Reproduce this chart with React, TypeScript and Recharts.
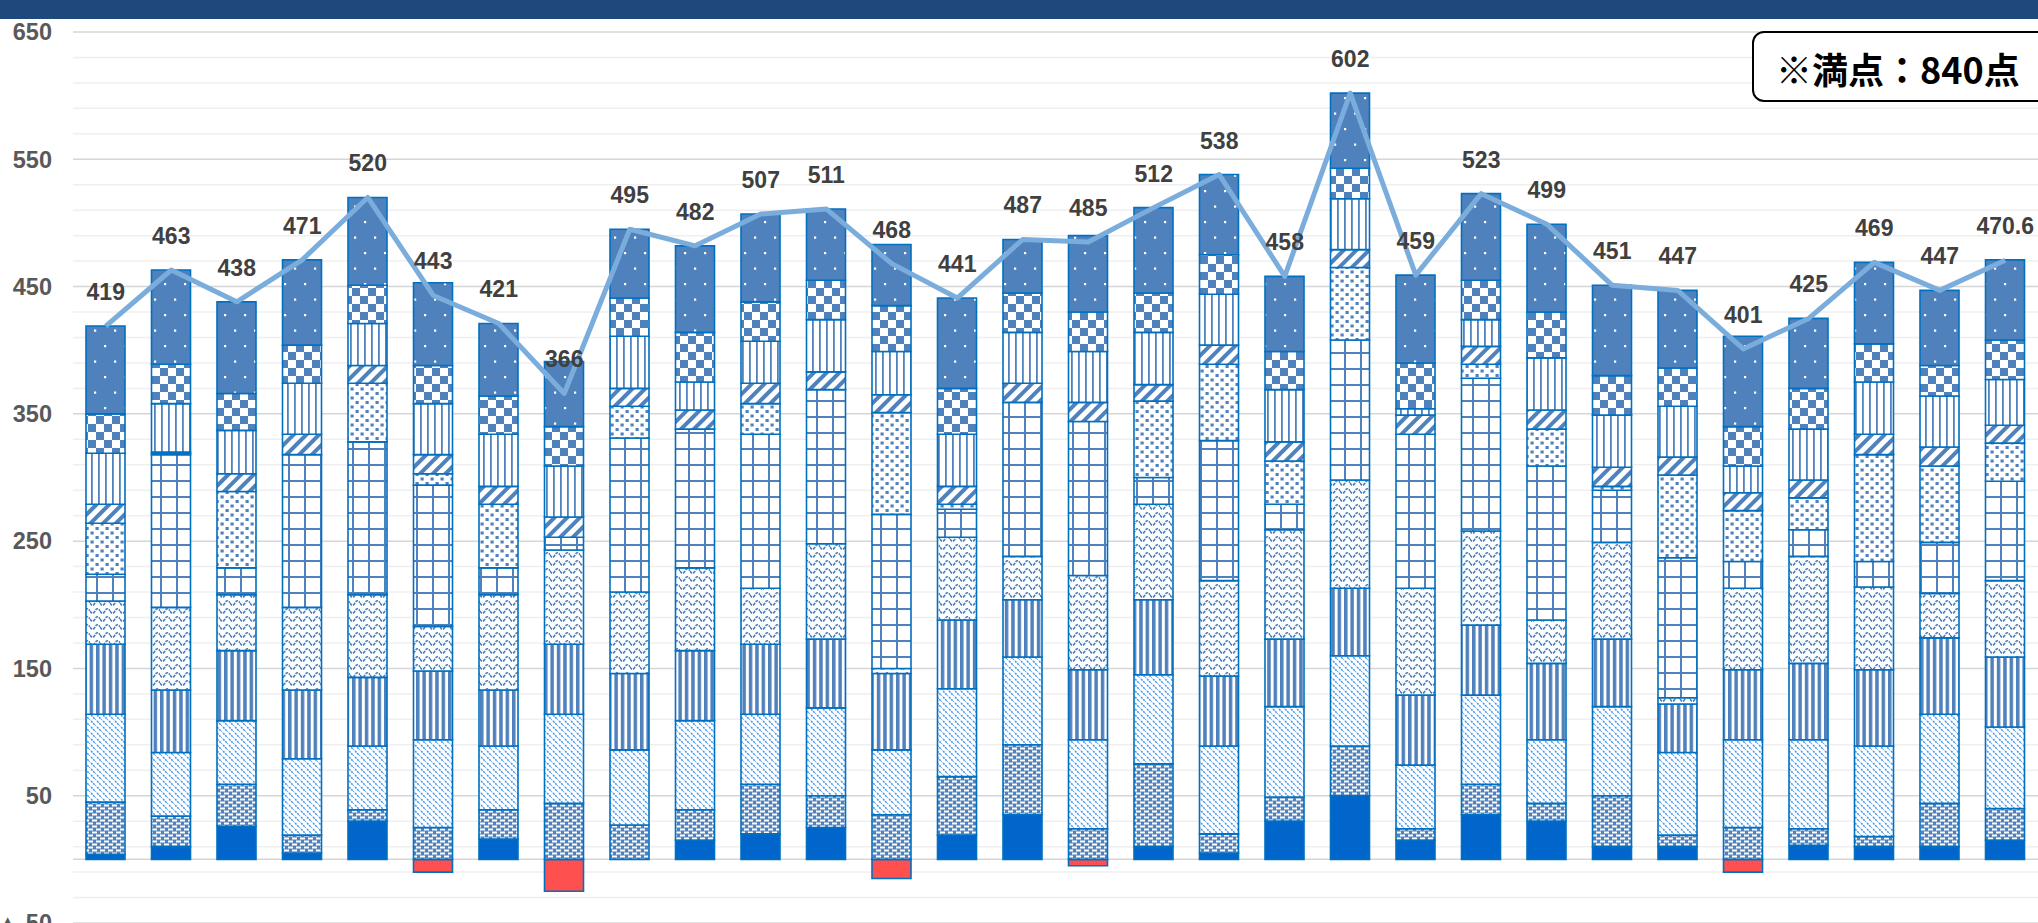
import React from "react";
import { ComposedChart, Bar, Line, XAxis, YAxis, CartesianGrid, LabelList } from "recharts";

const categories = ["1","2","3","4","5","6","7","8","9","10","11","12","13","14","15","16","17","18","19","20","21","22","23","24","25","26","27","28","29","30"];

const totals = [419,463,438,471,520,443,421,366,495,482,507,511,468,441,487,485,512,538,458,602,459,523,499,451,447,401,425,469,447,470.6];

const negative = [0,0,0,0,0,-10,0,-25,0,0,0,0,-15,0,0,-5,0,0,0,0,0,0,0,0,0,-10,0,0,0,0];
const solid = [4,10,26,5,30,0,16,0,0,15,20,25,0,19,35,0,10,5,30,50,15,35,30,10,10,0,11,10,10,15];
const dashes = [41,24,33,14,9,25,23,44,27,24,39,25,35,46,55,24,65,15,19,39,9,24,14,40,9,25,13,8,34,25];
const diagDown = [69,50,50,60,50,69,50,70,59,70,55,69,51,69,69,70,70,69,71,71,50,70,50,70,65,69,70,71,70,64];
const wideVert = [55,49,55,54,54,54,44,55,60,55,55,54,60,54,45,55,59,55,53,53,55,55,60,53,38,55,60,60,60,55];
const wave = [34,65,44,65,65,35,75,74,64,65,44,75,4,65,34,74,75,75,86,85,84,74,34,76,5,64,84,65,35,60];
const grid = [21,120,21,120,120,111,21,10,121,109,121,121,121,22,121,121,21,110,20,110,121,120,121,41,110,21,21,20,40,78];
const confetti = [40,1,60,0,46,9,50,0,25,0,24,0,80,4,0,0,60,60,34,57,0,11,29,3,65,40,25,84,60,30];
const diagUp = [15,1,14,16,14,15,14,16,14,15,16,14,14,14,15,15,13,15,15,14,15,14,15,15,14,14,14,16,15,14];
const narrowVert = [40,38,34,40,33,40,41,40,41,22,33,41,34,41,40,40,41,40,41,40,5,21,41,41,40,21,40,41,40,36];
const checker = [31,31,29,30,30,30,30,31,30,39,31,31,36,36,31,31,31,31,30,24,36,31,36,31,30,31,32,30,24,31];
const dots = [69,74,72,67,69,65,57,51,54,68,69,56,48,71,42,60,67,63,59,59,69,68,69,71,61,71,55,64,59,63];

const yTicks = [-50,-30,-10,10,30,50,70,90,110,130,150,170,190,210,230,250,270,290,310,330,350,370,390,410,430,450,470,490,510,530,550,570,590,610,630,650];
const majorTicks = [-50,0,50,150,250,350,450,550,650];
const labeledTicks = [-50,50,150,250,350,450,550,650];
const minorTicks = yTicks.filter((t) => majorTicks.indexOf(t) < 0);

const data = categories.map((name, i) => ({
  name,
  total: totals[i],
  neg: negative[i],
  s1: solid[i],
  s2: dashes[i],
  s3: diagDown[i],
  s4: wideVert[i],
  s5: wave[i],
  s6: grid[i],
  s7: confetti[i],
  s8: diagUp[i],
  s9: narrowVert[i],
  s10: checker[i],
  s11: dots[i],
}));

const FG = "#4f81bd";
const EDGE = "#0070c0";

const series = [
  { key: "neg", fill: "#ff5050" },
  { key: "s1", fill: "#0066cc" },
  { key: "s2", fill: "url(#pDash)" },
  { key: "s3", fill: "url(#pDiagDown)" },
  { key: "s4", fill: "url(#pWideVert)" },
  { key: "s5", fill: "url(#pWave)" },
  { key: "s6", fill: "url(#pGrid)" },
  { key: "s7", fill: "url(#pConf)" },
  { key: "s8", fill: "url(#pDiagUp)" },
  { key: "s9", fill: "url(#pNarrowVert)" },
  { key: "s10", fill: "url(#pCheck)" },
  { key: "s11", fill: "url(#pDots)" },
];

const fmtY = (v: number) => {
  if (labeledTicks.indexOf(v) < 0) return "";
  if (v < 0) return "▲ " + Math.abs(v);
  return String(v);
};

export default function App() {
  return (
    <div style={{ position: "absolute", left: 0, top: 0, width: 2038, height: 923, overflow: "hidden", background: "#fff" }}>
      <ComposedChart
        width={2038}
        height={923}
        data={data}
        margin={{ top: 32, right: 0, bottom: 0, left: 0 }}
        stackOffset="sign"
        barSize={39}
      >
        <defs>
          <pattern id="pDash" width="8" height="6" patternUnits="userSpaceOnUse">
            <rect width="8" height="6" fill={FG} />
            <rect x="0" y="0.5" width="5" height="2" fill="#fff" />
            <rect x="4" y="3.5" width="4" height="2" fill="#fff" />
            <rect x="0" y="3.5" width="1" height="2" fill="#fff" />
          </pattern>
          <pattern id="pDiagDown" width="6" height="6" patternUnits="userSpaceOnUse">
            <rect width="6" height="6" fill="#fff" />
            <path d="M-1,-1 L7,7 M-4,2 L2,8 M2,-4 L8,2" stroke="#3d95f0" strokeWidth="1.5" strokeDasharray="2 1" />
          </pattern>
          <pattern id="pWideVert" width="6.4" height="10" patternUnits="userSpaceOnUse">
            <rect width="6.4" height="10" fill="#fff" />
            <rect x="0" y="0" width="3.5" height="10" fill={FG} />
          </pattern>
          <pattern id="pWave" width="10" height="8" patternUnits="userSpaceOnUse">
            <rect width="10" height="8" fill="#fff" />
            <path d="M0,3 Q2.5,7.5 5,3 T10,3" stroke={FG} strokeWidth="1.6" fill="none" strokeDasharray="3 1" />
          </pattern>
          <pattern id="pGrid" width="16" height="16" patternUnits="userSpaceOnUse">
            <rect width="16" height="16" fill="#fff" />
            <rect x="0" y="0" width="16" height="2" fill={FG} />
            <rect x="0" y="0" width="2" height="16" fill={FG} />
          </pattern>
          <pattern id="pConf" width="10" height="9" patternUnits="userSpaceOnUse">
            <rect width="10" height="9" fill="#fff" />
            <rect x="0.5" y="0.5" width="3.2" height="3" fill={FG} />
            <rect x="5.5" y="5" width="3.2" height="3" fill={FG} />
          </pattern>
          <pattern id="pDiagUp" width="9" height="9" patternUnits="userSpaceOnUse" patternTransform="rotate(45)">
            <rect width="9" height="9" fill="#fff" />
            <rect x="0" y="0" width="4" height="9" fill={FG} />
          </pattern>
          <pattern id="pNarrowVert" width="7" height="10" patternUnits="userSpaceOnUse">
            <rect width="7" height="10" fill="#fff" />
            <rect x="0" y="0" width="1.8" height="10" fill={FG} />
          </pattern>
          <pattern id="pCheck" width="16" height="16" patternUnits="userSpaceOnUse">
            <rect width="16" height="16" fill="#fff" />
            <rect x="0" y="0" width="8" height="8" fill={FG} />
            <rect x="8" y="8" width="8" height="8" fill={FG} />
          </pattern>
          <pattern id="pDots" width="20" height="31" patternUnits="userSpaceOnUse">
            <rect width="20" height="31" fill={FG} />
            <rect x="4" y="4" width="2.2" height="2.2" fill="#fff" />
            <rect x="14" y="19.5" width="2.2" height="2.2" fill="#fff" />
          </pattern>
        </defs>
        <CartesianGrid vertical={false} horizontalValues={minorTicks} stroke="#efefef" strokeWidth={1.5} />
        <CartesianGrid vertical={false} horizontalValues={majorTicks} stroke="#d6d6d6" strokeWidth={1.5} />
        <XAxis dataKey="name" hide />
        <YAxis
          domain={[-50, 650]}
          ticks={yTicks}
          interval={0}
          width={73}
          axisLine={false}
          tickLine={false}
          tickSize={0}
          tickMargin={21}
          tickFormatter={fmtY}
          tick={{ fill: "#595959", fontSize: 23.5, fontWeight: "bold", fontFamily: "Liberation Sans, Arial, sans-serif" }}
          allowDataOverflow
        />
        {series.map((s) => (
          <Bar
            key={s.key}
            dataKey={s.key}
            stackId="a"
            fill={s.fill}
            stroke={EDGE}
            strokeWidth={1.6}
            isAnimationActive={false}
          />
        ))}
        <Line
          type="linear"
          dataKey="total"
          stroke="#7aaddc"
          strokeWidth={5}
          dot={false}
          activeDot={false}
          strokeLinejoin="round"
          isAnimationActive={false}
        >
          <LabelList
            dataKey="total"
            position="top"
            offset={26}
            fill="#404040"
            fontSize={23}
            fontWeight="bold"
            fontFamily="Liberation Sans, Arial, sans-serif"
          />
        </Line>
      </ComposedChart>
      <div style={{ position: "absolute", left: 0, top: 0, width: 2038, height: 19, background: "#1f497d" }} />
      <div
        style={{
          position: "absolute",
          left: 1752,
          top: 31,
          width: 330,
          height: 71,
          boxSizing: "border-box",
          border: "2px solid #000",
          borderRadius: 12,
          background: "#fff",
        }}
      />
      <div
        style={{
          position: "absolute",
          left: 1776,
          top: 50,
          fontFamily: "'Noto Sans CJK JP', sans-serif",
          fontWeight: "bold",
          fontSize: 36,
          lineHeight: "36px",
          color: "#000",
          whiteSpace: "nowrap",
        }}
      >
        ※満点：840点
      </div>
    </div>
  );
}
